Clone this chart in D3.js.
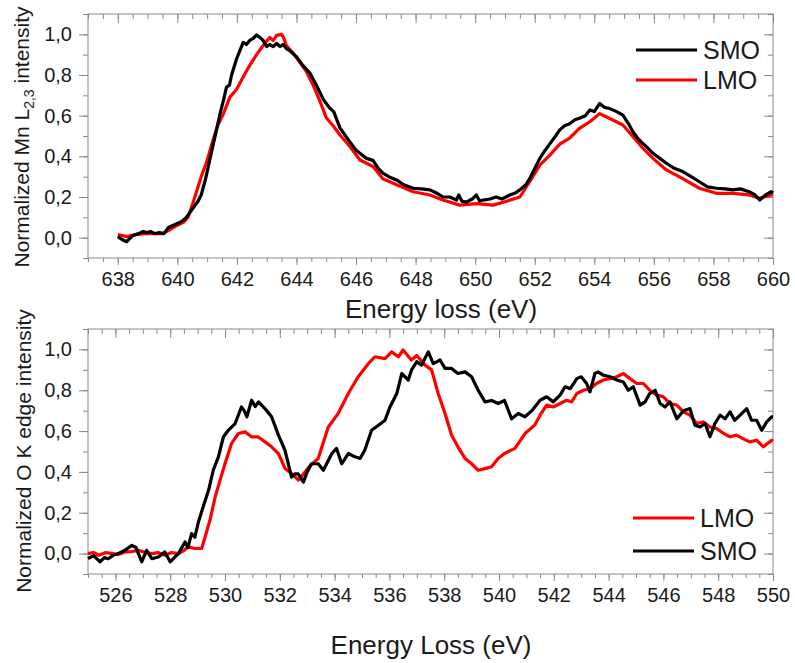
<!DOCTYPE html>
<html lang="en">
    <head>
        <meta charset="utf-8">
        <title>EELS Mn L2,3 and O K edges</title>
        <script type="text/javascript" src="https://d3js.org/d3.v7.min.js"></script>
        <style type="text/css">
            body { margin: 0; background: #fff; }
            text { font-family: "Liberation Sans", Arial, sans-serif; fill: #1a1a1a; }
            .frame { fill: none; stroke: #8a8a8a; stroke-width: 1; }
            .axis path { display: none; }
            .axis line { stroke: #8a8a8a; stroke-width: 1; }
            .axis text { font-size: 20px; }
            .line { fill: none; stroke-width: 3.2; stroke-linejoin: round; }
            .smo { stroke: #000; }
            .lmo { stroke: #ff0000; }
        </style>
    </head>
    <body>

        <script type="text/javascript">

        //Width and height
        var w = 795;
        var h = 663;

        //Mn L2,3 edge, SMO (black)
        var mnSmoE = [638.0, 638.15, 638.3, 638.5, 638.7, 638.85, 639.0, 639.1, 639.25, 639.4, 639.55, 639.7, 639.85, 640.0, 640.15, 640.3, 640.5, 640.7, 640.8, 640.95,
            641.1, 641.3, 641.45, 641.54, 641.65, 641.75, 641.82, 641.99, 642.1, 642.21, 642.32, 642.43, 642.55, 642.66, 642.77, 642.88, 643.0, 643.1, 643.22, 643.33,
            643.45, 643.55, 643.66, 643.77, 644.0, 644.2, 644.45, 644.67, 644.9, 645.1, 645.25, 645.46, 645.65, 645.8, 646.0, 646.13, 646.35, 646.57, 646.75, 646.9,
            647.1, 647.36, 647.6, 647.92, 648.2, 648.48, 648.7, 648.92, 649.15, 649.37, 649.45, 649.55, 649.7, 649.9, 650.04, 650.15, 650.26, 650.5, 650.7, 650.9,
            651.16, 651.35, 651.5, 651.7, 651.83, 652.0, 652.17, 652.35, 652.5, 652.7, 652.84, 653.0, 653.17, 653.35, 653.5, 653.7, 653.85, 654.0, 654.18, 654.35,
            654.5, 654.75, 654.96, 655.15, 655.3, 655.45, 655.63, 655.8, 655.97, 656.2, 656.42, 656.7, 656.97, 657.25, 657.53, 657.8, 658.1, 658.4, 658.65, 658.9,
            659.2, 659.4, 659.55, 659.75, 659.94, 660.0];
        var mnSmoI = [0.005, -0.01, -0.02, 0.01, 0.02, 0.03, 0.025, 0.03, 0.02, 0.025, 0.02, 0.05, 0.06, 0.07, 0.08, 0.10, 0.14, 0.18, 0.21, 0.29,
            0.39, 0.52, 0.62, 0.67, 0.74, 0.75, 0.80, 0.88, 0.92, 0.96, 0.95, 0.97, 0.98, 0.997, 0.985, 0.97, 0.94, 0.95, 0.94, 0.955,
            0.94, 0.95, 0.93, 0.92, 0.89, 0.85, 0.81, 0.75, 0.68, 0.64, 0.62, 0.54, 0.50, 0.47, 0.43, 0.415, 0.39, 0.38, 0.34, 0.317,
            0.30, 0.284, 0.26, 0.243, 0.24, 0.235, 0.22, 0.20, 0.20, 0.185, 0.21, 0.18, 0.175, 0.19, 0.21, 0.18, 0.185, 0.19, 0.20, 0.19,
            0.21, 0.22, 0.235, 0.26, 0.29, 0.34, 0.39, 0.43, 0.46, 0.50, 0.53, 0.55, 0.56, 0.58, 0.587, 0.60, 0.628, 0.62, 0.66, 0.64,
            0.636, 0.62, 0.603, 0.56, 0.52, 0.49, 0.464, 0.44, 0.415, 0.39, 0.366, 0.34, 0.325, 0.30, 0.275, 0.25, 0.243, 0.24, 0.235, 0.24,
            0.226, 0.21, 0.185, 0.21, 0.226, 0.22];

        //Mn L2,3 edge, LMO (red)
        var mnLmoE = [638.0, 638.3, 638.6, 638.9, 639.2, 639.5, 639.7, 639.98, 640.2, 640.36, 640.5, 640.65, 640.8, 640.98, 641.2, 641.35, 641.55, 641.76, 641.99, 642.21,
            642.44, 642.66, 642.88, 643.1, 643.22, 643.33, 643.5, 643.58, 643.66, 643.9, 644.1, 644.34, 644.56, 644.79, 645.0, 645.23, 645.46, 645.8, 646.13, 646.57,
            646.9, 647.36, 647.92, 648.48, 648.92, 649.48, 650.04, 650.6, 651.0, 651.5, 651.83, 652.17, 652.5, 652.84, 653.17, 653.5, 653.85, 654.18, 654.5, 654.96,
            655.3, 655.63, 655.97, 656.42, 656.97, 657.53, 658.1, 658.65, 659.2, 659.55, 659.94, 660.0];
        var mnLmoI = [0.015, 0.005, 0.015, 0.02, 0.02, 0.02, 0.035, 0.06, 0.075, 0.10, 0.16, 0.23, 0.30, 0.37, 0.48, 0.55, 0.61, 0.69, 0.73, 0.79,
            0.85, 0.90, 0.945, 0.985, 0.97, 0.995, 1.0, 0.98, 0.945, 0.905, 0.865, 0.815, 0.75, 0.67, 0.59, 0.55, 0.505, 0.447, 0.382, 0.35,
            0.29, 0.26, 0.226, 0.21, 0.185, 0.16, 0.167, 0.16, 0.177, 0.20, 0.275, 0.357, 0.405, 0.46, 0.489, 0.538, 0.57, 0.61, 0.587, 0.554,
            0.497, 0.44, 0.39, 0.333, 0.29, 0.243, 0.218, 0.218, 0.21, 0.194, 0.21, 0.21];

        //O K edge, SMO (black)
        var oSmoE = [525.0, 525.2, 525.44, 525.6, 525.74, 525.9, 526.1, 526.35, 526.6, 526.75, 526.84, 526.96, 527.14, 527.33, 527.57, 527.8, 528.0, 528.15, 528.3, 528.54,
            528.65, 528.78, 528.9, 529.03, 529.2, 529.4, 529.57, 529.76, 529.94, 530.12, 530.37, 530.6, 530.7, 530.8, 530.97, 531.1, 531.22, 531.46, 531.7, 531.95,
            532.19, 532.43, 532.55, 532.67, 532.86, 533.0, 533.16, 533.4, 533.59, 533.9, 534.07, 534.26, 534.5, 534.74, 534.93, 535.1, 535.35, 535.6, 535.84, 536.02,
            536.27, 536.45, 536.69, 536.81, 537.0, 537.17, 537.42, 537.6, 537.85, 538.03, 538.27, 538.5, 538.76, 539.0, 539.24, 539.49, 539.73, 539.97, 540.2, 540.46,
            540.7, 540.95, 541.2, 541.5, 541.74, 541.98, 542.23, 542.41, 542.6, 542.84, 543.0, 543.2, 543.32, 543.5, 543.62, 543.8, 544.05, 544.3, 544.54, 544.72,
            544.9, 545.15, 545.33, 545.5, 545.7, 545.88, 546.06, 546.24, 546.49, 546.73, 546.97, 547.15, 547.34, 547.52, 547.7, 547.88, 548.07, 548.25, 548.43, 548.6,
            548.8, 549.04, 549.22, 549.4, 549.59, 549.77, 549.95, 550.0];
        var oSmoI = [-0.025, -0.01, -0.04, -0.02, -0.025, -0.01, 0.0, 0.016, 0.04, 0.03, 0.0, -0.04, 0.016, -0.025, -0.017, 0.008, -0.04, -0.02, 0.0, 0.057,
            0.03, 0.098, 0.08, 0.155, 0.228, 0.31, 0.408, 0.474, 0.571, 0.604, 0.637, 0.718, 0.70, 0.67, 0.751, 0.72, 0.743, 0.71, 0.67, 0.58,
            0.506, 0.375, 0.39, 0.39, 0.35, 0.40, 0.44, 0.44, 0.408, 0.49, 0.515, 0.44, 0.49, 0.474, 0.466, 0.506, 0.604, 0.629, 0.653, 0.718,
            0.784, 0.882, 0.85, 0.90, 0.94, 0.923, 0.988, 0.93, 0.948, 0.907, 0.907, 0.882, 0.89, 0.866, 0.80, 0.743, 0.75, 0.735, 0.75, 0.66,
            0.686, 0.67, 0.70, 0.751, 0.768, 0.743, 0.776, 0.817, 0.808, 0.857, 0.866, 0.833, 0.792, 0.882, 0.89, 0.874, 0.866, 0.85, 0.84, 0.80,
            0.817, 0.727, 0.743, 0.784, 0.80, 0.735, 0.718, 0.743, 0.66, 0.70, 0.71, 0.629, 0.62, 0.637, 0.572, 0.637, 0.678, 0.66, 0.694, 0.653,
            0.678, 0.71, 0.653, 0.653, 0.604, 0.645, 0.67, 0.67];

        //O K edge, LMO (red)
        var oLmoE = [525.0, 525.2, 525.4, 525.65, 525.9, 526.1, 526.35, 526.6, 526.84, 527.1, 527.33, 527.55, 527.8, 528.05, 528.3, 528.5, 528.66, 528.9, 529.15, 529.27,
            529.45, 529.64, 529.82, 530.0, 530.24, 530.49, 530.73, 530.97, 531.2, 531.46, 531.7, 531.95, 532.19, 532.43, 532.68, 532.92, 533.1, 533.4, 533.77, 534.13,
            534.5, 534.86, 535.23, 535.47, 535.84, 536.08, 536.33, 536.5, 536.8, 537.0, 537.3, 537.54, 537.78, 538.03, 538.27, 538.5, 538.76, 539.0, 539.24, 539.49,
            539.73, 539.97, 540.2, 540.58, 540.95, 541.3, 541.5, 541.74, 541.98, 542.23, 542.47, 542.65, 542.84, 543.08, 543.32, 543.56, 543.8, 544.05, 544.3, 544.54,
            544.78, 545.03, 545.27, 545.5, 545.76, 546.0, 546.24, 546.49, 546.73, 546.97, 547.22, 547.46, 547.7, 547.95, 548.2, 548.43, 548.67, 548.9, 549.15, 549.4,
            549.65, 549.95, 550.0];
        var oLmoI = [0.0, 0.005, -0.008, 0.005, 0.0, -0.005, 0.008, 0.01, 0.016, 0.005, 0.0, 0.005, -0.008, 0.005, 0.0, 0.015, 0.033, 0.025, 0.025, 0.08,
            0.163, 0.277, 0.36, 0.44, 0.54, 0.588, 0.596, 0.572, 0.572, 0.547, 0.523, 0.49, 0.417, 0.392, 0.36, 0.40, 0.43, 0.466, 0.62, 0.686,
            0.784, 0.866, 0.93, 0.964, 0.955, 0.988, 0.964, 0.997, 0.948, 0.97, 0.923, 0.90, 0.784, 0.686, 0.58, 0.523, 0.466, 0.44, 0.408, 0.416,
            0.425, 0.466, 0.49, 0.515, 0.588, 0.629, 0.678, 0.727, 0.718, 0.735, 0.751, 0.743, 0.784, 0.80, 0.808, 0.833, 0.85, 0.857, 0.866, 0.882,
            0.857, 0.833, 0.833, 0.80, 0.776, 0.768, 0.735, 0.727, 0.694, 0.678, 0.637, 0.645, 0.62, 0.612, 0.588, 0.572, 0.58, 0.563, 0.547, 0.555,
            0.523, 0.555, 0.55];

        //Tick values
        var mnTicks = [638, 640, 642, 644, 646, 648, 650, 652, 654, 656, 658, 660];
        var oTicks = [526, 528, 530, 532, 534, 536, 538, 540, 542, 544, 546, 548, 550];
        var yTicks = [0.0, 0.2, 0.4, 0.6, 0.8, 1.0];

        //Comma as decimal mark
        var formatY = function(d){ return d3.format(".1f")(d).replace(".", ","); };

        var svg = d3.select("body")
            .append("svg")
            .attr("width", w)
            .attr("height", h);

        //draws one panel: frame, ticks, curves, legend
        var drawPanel = function(p){
            var xScale = d3.scaleLinear().domain(p.xDomain).range([88, 773]);
            var yScale = d3.scaleLinear().domain([-0.1, 1.1]).range([p.bottom, p.top]);

            var g = svg.append("g");

            //minor ticks every 0.5 eV and 0.1
            var xMinor = d3.range(Math.ceil(p.xDomain[0] * 2) / 2, p.xDomain[1] + 0.01, 0.5);
            var yMinor = d3.range(-0.1, 1.11, 0.1);

            g.append("g").attr("class", "axis")
                .attr("transform", "translate(0," + p.bottom + ")")
                .call(d3.axisBottom(xScale).tickValues(xMinor).tickSize(4).tickFormat(""));
            g.append("g").attr("class", "axis")
                .attr("transform", "translate(0," + p.bottom + ")")
                .call(d3.axisBottom(xScale).tickValues(p.ticks).tickSize(7).tickPadding(7).tickFormat(d3.format("d")));
            g.append("g").attr("class", "axis")
                .attr("transform", "translate(0," + p.top + ")")
                .call(d3.axisTop(xScale).tickValues(xMinor).tickSize(-5).tickFormat(""));
            g.append("g").attr("class", "axis")
                .attr("transform", "translate(0," + p.top + ")")
                .call(d3.axisTop(xScale).tickValues(p.ticks).tickSize(-9).tickFormat(""));

            g.append("g").attr("class", "axis")
                .attr("transform", "translate(88,0)")
                .call(d3.axisLeft(yScale).tickValues(yMinor).tickSize(5).tickFormat(""));
            g.append("g").attr("class", "axis")
                .attr("transform", "translate(88,0)")
                .call(d3.axisLeft(yScale).tickValues(yTicks).tickSize(9).tickPadding(7).tickFormat(formatY));
            g.append("g").attr("class", "axis")
                .attr("transform", "translate(773,0)")
                .call(d3.axisRight(yScale).tickValues(yMinor).tickSize(-5).tickFormat(""));
            g.append("g").attr("class", "axis")
                .attr("transform", "translate(773,0)")
                .call(d3.axisRight(yScale).tickValues(yTicks).tickSize(-9).tickFormat(""));

            g.append("rect")
                .attr("class", "frame")
                .attr("x", 88)
                .attr("y", p.top)
                .attr("width", 773 - 88)
                .attr("height", p.bottom - p.top);

            var line = d3.line()
                .x(function(d){ return xScale(d[0]); })
                .y(function(d){ return yScale(d[1]); });

            p.series.forEach(function(s){
                g.append("path")
                    .datum(d3.zip(s.e, s.i))
                    .attr("class", "line " + s.cls)
                    .attr("d", line);
            });

            //legend
            p.legend.forEach(function(s, i){
                var ly = p.legendY + i * p.legendGap;
                g.append("line")
                    .attr("class", "line " + s.cls)
                    .attr("x1", p.legendX).attr("x2", p.legendX + 61)
                    .attr("y1", ly).attr("y2", ly);
                g.append("text")
                    .attr("x", p.legendX + 67)
                    .attr("y", ly + 9)
                    .style("font-size", "25px")
                    .text(s.name);
            });

            //x title
            g.append("text")
                .attr("x", p.xTitleX)
                .attr("y", p.xTitleY)
                .attr("text-anchor", "middle")
                .style("font-size", "26px")
                .text(p.xTitle);

            //y title
            var yt = g.append("text")
                .attr("transform", "translate(" + p.yTitleX + "," + p.yTitleMid + ") rotate(-90)")
                .attr("text-anchor", "middle")
                .style("font-size", "21px");
            p.yTitle.forEach(function(part){
                var ts = yt.append("tspan").text(part.t);
                if (part.sub) {
                    ts.attr("dy", 5).style("font-size", "14px");
                } else if (part.after) {
                    ts.attr("dy", -5);
                }
            });
        };

        drawPanel({
            xDomain: [637, 660],
            top: 14,
            bottom: 258,
            ticks: mnTicks,
            series: [
                { e: mnLmoE, i: mnLmoI, cls: "lmo" },
                { e: mnSmoE, i: mnSmoI, cls: "smo" }
            ],
            legend: [ { name: "SMO", cls: "smo" }, { name: "LMO", cls: "lmo" } ],
            legendX: 636,
            legendY: 50,
            legendGap: 30,
            xTitle: "Energy loss (eV)",
            xTitleX: 441,
            xTitleY: 318,
            yTitle: [ { t: "Normalized Mn L" }, { t: "2,3", sub: true }, { t: " intensity", after: true } ],
            yTitleX: 29,
            yTitleMid: 137
        });

        drawPanel({
            xDomain: [525, 550],
            top: 329,
            bottom: 574,
            ticks: oTicks,
            series: [
                { e: oLmoE, i: oLmoI, cls: "lmo" },
                { e: oSmoE, i: oSmoI, cls: "smo" }
            ],
            legend: [ { name: "LMO", cls: "lmo" }, { name: "SMO", cls: "smo" } ],
            legendX: 633,
            legendY: 518,
            legendGap: 33,
            xTitle: "Energy Loss (eV)",
            xTitleX: 431,
            xTitleY: 654,
            yTitle: [ { t: "Normalized O K edge intensity" } ],
            yTitleX: 31,
            yTitleMid: 451
        });

        </script>
    </body>
</html>
